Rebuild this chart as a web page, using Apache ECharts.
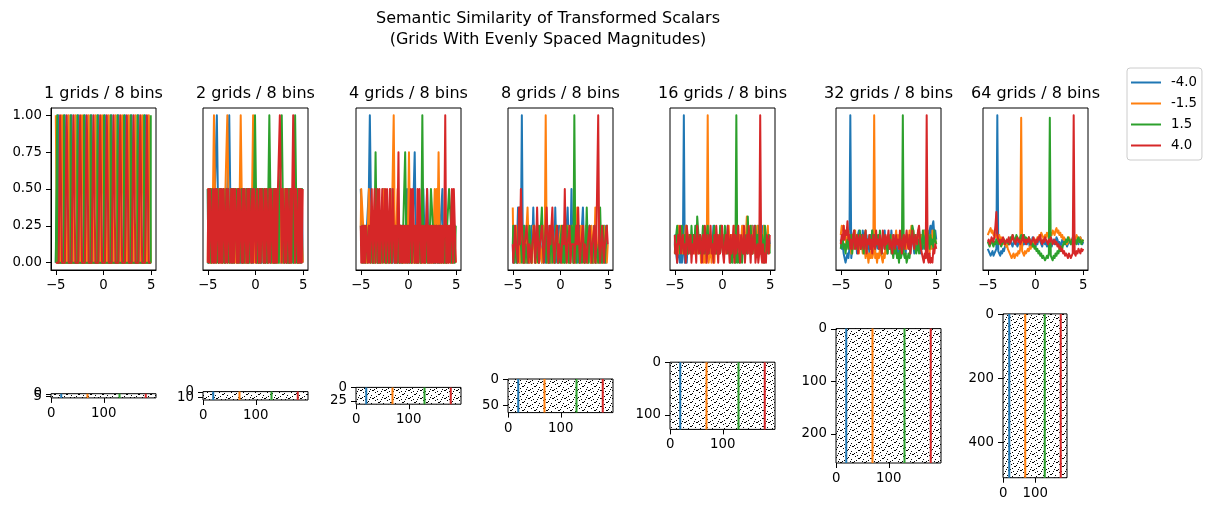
<!DOCTYPE html>
<html>
<head>
<meta charset="utf-8">
<script src="https://cdn.jsdelivr.net/npm/echarts@6/dist/echarts.min.js"></script>
<style>
  html, body { margin: 0; padding: 0; background: #fff; }
  #chart { width: 1218px; height: 511px; }
</style>
</head>
<body>
<div id="chart"></div>
<script>
// grids per panel, legend values and colours
const gridCounts = [1, 2, 4, 8, 16, 32, 64];
const valueNames = ['-4.0', '-1.5', '1.5', '4.0'];
const colors = ['#1f77b4', '#ff7f0e', '#2ca02c', '#d62728'];

// sample positions of the scalar (x axis of the top row)
const xs = [
  -5, -4.9, -4.8, -4.7, -4.6, -4.5, -4.4, -4.3, -4.2, -4.1,
  -4, -3.9, -3.8, -3.7, -3.6, -3.5, -3.4, -3.3, -3.2, -3.1,
  -3, -2.9, -2.8, -2.7, -2.6, -2.5, -2.4, -2.3, -2.2, -2.1,
  -2, -1.9, -1.8, -1.7, -1.6, -1.5, -1.4, -1.3, -1.2, -1.1,
  -1, -0.9, -0.8, -0.7, -0.6, -0.5, -0.4, -0.3, -0.2, -0.1,
  0, 0.1, 0.2, 0.3, 0.4, 0.5, 0.6, 0.7, 0.8, 0.9,
  1, 1.1, 1.2, 1.3, 1.4, 1.5, 1.6, 1.7, 1.8, 1.9,
  2, 2.1, 2.2, 2.3, 2.4, 2.5, 2.6, 2.7, 2.8, 2.9,
  3, 3.1, 3.2, 3.3, 3.4, 3.5, 3.6, 3.7, 3.8, 3.9,
  4, 4.1, 4.2, 4.3, 4.4, 4.5, 4.6, 4.7, 4.8, 4.9,
  5
];

// matched grids per sample (similarity = matched / grids)
const g1Blue = [
  0,0,0,1,1,0,0,0,0,0, 1,1,0,0,0,0,0,1,1,0,
  0,0,0,0,1,1,0,0,0,0, 0,1,1,0,0,0,0,0,1,1,
  0,0,0,0,0,1,1,0,0,0, 0,0,1,1,0,0,0,0,0,1,
  1,0,0,0,0,0,1,1,0,0, 0,0,0,1,1,0,0,0,0,0,
  1,1,0,0,0,0,0,1,1,0, 0,0,0,0,1,1,0,0,0,0,
  0];
const g1Orange = [
  1,1,0,0,0,0,0,1,1,0, 0,0,0,0,1,1,0,0,0,0,
  0,1,1,0,0,0,0,0,1,1, 0,0,0,0,0,1,1,0,0,0,
  0,0,1,1,0,0,0,0,0,1, 1,0,0,0,0,0,1,1,0,0,
  0,0,0,1,1,0,0,0,0,0, 1,1,0,0,0,0,0,1,1,0,
  0,0,0,0,1,1,0,0,0,0, 0,1,1,0,0,0,0,0,1,1,
  0];
const g1Green = [
  0,0,1,0,0,0,0,0,0,1, 0,0,0,0,0,0,1,0,0,0,
  0,0,0,1,0,0,0,0,0,0, 1,0,0,0,0,0,0,1,0,0,
  0,0,0,0,1,0,0,0,0,0, 0,1,0,0,0,0,0,0,1,0,
  0,0,0,0,0,1,0,0,0,0, 0,0,1,0,0,0,0,0,0,1,
  0,0,0,0,0,0,1,0,0,0, 0,0,0,1,0,0,0,0,0,0,
  1];
const g1Red = [
  0,0,0,0,0,1,1,0,0,0, 0,0,1,1,0,0,0,0,0,1,
  1,0,0,0,0,0,1,1,0,0, 0,0,0,1,1,0,0,0,0,0,
  1,1,0,0,0,0,0,1,1,0, 0,0,0,0,1,1,0,0,0,0,
  0,1,1,0,0,0,0,0,1,1, 0,0,0,0,0,1,1,0,0,0,
  0,0,1,1,0,0,0,0,0,1, 1,0,0,0,0,0,1,1,0,0,
  0];

const g2Blue = [
  1,0,1,1,0,0,1,0,1,1, 2,1,0,0,1,0,0,1,1,0,
  0,1,1,2,1,0,0,1,0,1, 1,0,0,1,1,0,1,0,0,1,
  0,1,1,0,0,1,0,1,0,0, 1,1,0,1,0,0,1,0,1,1,
  0,0,1,0,1,1,0,0,1,0, 1,0,0,1,0,1,1,0,0,1,
  1,0,0,1,0,1,0,0,1,1, 0,1,0,0,1,0,1,1,0,1,
  0];
const g2Orange = [
  0,1,1,0,1,0,1,2,1,0, 0,1,0,1,1,0,0,1,0,1,
  1,2,1,0,0,1,0,1,1,0, 1,0,1,0,1,2,1,0,0,1,
  0,1,0,0,1,1,0,1,2,1, 0,0,1,0,1,0,0,1,1,0,
  1,0,0,1,0,0,1,1,0,1, 0,1,1,0,0,1,0,0,1,0,
  0,1,1,0,1,0,0,1,0,1, 1,0,0,1,0,1,0,0,1,1,
  0];
const g2Green = [
  1,0,0,1,0,1,1,0,0,1, 0,1,0,0,1,1,0,1,0,0,
  1,0,1,0,0,1,0,1,0,0, 1,1,0,1,0,0,1,0,1,0,
  0,1,0,1,0,0,1,0,0,1, 2,1,0,1,0,1,0,0,1,0,
  1,0,1,0,1,2,1,0,0,1, 0,1,0,0,1,0,1,1,2,1,
  0,0,1,0,1,0,1,0,1,1, 0,1,2,1,0,1,0,1,0,1,
  1];
const g2Red = [
  0,1,0,1,1,0,1,0,1,0, 1,1,0,1,0,1,0,1,1,0,
  1,0,1,1,0,1,0,1,0,1, 1,0,1,0,1,1,0,1,0,1,
  1,0,1,0,1,1,0,1,0,1, 1,0,1,1,0,1,0,1,1,0,
  1,0,1,1,0,1,0,1,1,0, 1,0,1,0,1,1,2,1,0,1,
  1,0,1,0,1,1,0,1,0,1, 2,1,0,1,1,0,1,0,1,0,
  1];

const g4Blue = [
  2,2,1,0,1,1,0,1,1,2, 4,2,1,0,1,0,1,1,0,1,
  1,0,1,1,2,2,1,0,1,1, 0,1,2,1,0,1,1,0,1,0,
  1,1,0,1,0,1,1,0,1,2, 1,0,1,1,0,1,1,3,1,0,
  1,0,1,1,0,1,2,1,0,1, 2,1,1,0,1,0,1,1,0,1,
  1,0,1,0,1,1,2,0,1,1, 0,1,0,1,1,0,1,1,0,1,
  1];
const g4Orange = [
  1,2,2,1,0,1,1,0,1,2, 1,0,1,1,0,1,0,1,1,0,
  1,1,0,1,1,2,0,1,1,0, 1,1,0,1,1,4,1,0,1,2,
  1,0,1,1,0,1,0,1,1,0, 1,3,1,0,1,1,0,1,0,1,
  0,1,1,0,1,0,1,1,0,1, 1,0,1,1,0,1,0,1,2,1,
  2,1,3,1,0,1,1,0,1,0, 1,1,0,1,1,0,1,0,1,1,
  0];
const g4Green = [
  1,1,0,1,1,0,1,1,0,1, 1,0,1,1,0,1,3,1,0,1,
  0,1,1,0,1,1,0,1,0,1, 1,0,1,0,1,1,0,1,1,0,
  1,0,1,1,0,1,1,3,1,0, 1,1,0,1,0,1,1,0,1,1,
  0,1,1,0,1,4,1,0,1,1, 0,1,0,1,2,2,1,0,1,0,
  1,1,0,1,1,0,1,1,0,1, 0,1,1,2,2,1,0,1,1,0,
  1];
const g4Red = [
  1,0,1,0,1,0,1,1,0,1, 0,1,2,0,1,2,0,1,2,0,
  2,0,1,2,0,1,2,0,2,1, 0,2,1,0,2,1,0,1,0,1,
  3,0,1,0,1,0,1,0,1,0, 1,0,1,2,0,2,1,0,1,0,
  2,0,2,1,0,1,0,1,0,1, 2,0,1,0,1,0,1,0,1,0,
  1,0,1,0,1,0,1,0,1,4, 0,1,0,1,0,1,2,0,2,1,
  0];

const g8Blue = [
  1,0,2,1,0,1,3,1,0,1, 8,1,0,2,1,0,1,2,0,1,
  2,1,3,1,0,1,2,1,0,1, 1,0,2,1,1,0,1,2,0,1,
  0,1,2,1,0,3,1,0,1,2, 1,0,1,1,2,0,1,1,3,1,
  0,1,4,1,0,2,1,1,0,1, 2,0,1,1,3,1,0,1,2,0,
  1,2,0,1,1,0,2,1,0,1, 1,0,2,1,0,1,1,2,0,1,
  1];
const g8Orange = [
  3,1,0,1,2,0,1,1,0,2, 1,0,1,1,0,2,3,1,0,1,
  1,0,2,1,1,0,1,2,0,1, 1,0,1,2,1,8,1,0,1,1,
  2,0,1,1,0,1,2,1,0,1, 1,2,0,1,0,1,1,0,2,1,
  0,1,1,2,0,1,0,1,3,1, 0,1,2,0,1,1,0,2,1,0,
  1,1,0,2,1,0,1,3,1,0, 1,2,0,1,1,0,2,1,1,0,
  1];
const g8Green = [
  1,2,0,1,1,0,1,2,3,1, 0,1,2,0,1,1,0,1,2,1,
  0,1,1,2,0,1,1,0,2,1, 1,3,1,0,1,2,0,1,1,0,
  1,2,0,1,1,0,2,1,1,0, 1,1,2,0,1,0,1,2,1,0,
  1,0,2,1,0,8,1,0,1,2, 0,1,1,0,2,1,0,1,3,1,
  0,2,1,1,0,1,2,0,1,1, 0,1,3,1,0,2,1,0,1,2,
  2];
const g8Red = [
  1,0,1,2,1,1,0,3,1,4, 2,1,0,1,1,2,1,0,1,1,
  0,1,1,2,0,1,3,1,0,1, 1,2,1,0,1,1,3,1,0,2,
  1,1,3,1,0,1,1,2,0,1, 1,0,1,2,1,4,1,0,1,1,
  2,0,1,1,1,0,1,2,1,3, 1,0,1,1,2,0,1,1,0,1,
  1,2,1,0,1,1,2,0,1,1, 8,1,0,1,2,1,0,1,1,2,
  1];

const g16Blue = [
  2,3,1,0,2,1,0,1,0,1, 16,0,1,0,2,1,3,2,1,2,
  3,2,1,4,2,1,3,2,2,1, 3,2,1,2,4,2,1,3,2,1,
  2,4,3,1,2,3,2,1,3,4, 2,1,2,3,1,2,4,3,2,1,
  3,2,1,2,4,1,2,3,2,1, 2,3,4,2,1,3,2,1,2,3,
  1,2,4,3,2,1,2,3,4,2, 1,3,2,4,1,2,3,1,2,3,
  2];
const g16Orange = [
  1,2,3,2,4,1,2,3,2,1, 3,2,4,2,1,3,2,1,2,3,
  2,1,3,4,2,1,2,3,0,1, 2,0,1,0,1,16,0,1,2,0,
  1,2,0,3,1,2,1,3,2,4, 2,1,3,2,1,3,2,4,1,2,
  3,1,2,4,2,3,1,2,3,1, 2,4,3,2,1,3,5,2,3,1,
  2,4,1,3,2,1,2,4,3,1, 2,3,1,2,4,1,3,2,4,1,
  2];
const g16Green = [
  2,1,3,4,2,3,1,2,4,2, 1,3,2,4,1,2,3,1,4,2,
  3,2,4,1,5,5,2,3,1,2, 4,3,1,2,3,4,1,2,3,2,
  1,3,4,2,1,3,2,1,4,2, 3,1,2,4,3,2,1,2,1,0,
  1,0,2,1,0,16,0,1,0,2, 1,0,2,1,3,2,1,5,2,3,
  4,2,1,3,2,4,1,3,2,4, 2,1,3,2,0,4,3,1,2,3,
  1];
const g16Red = [
  3,1,2,0,3,2,4,1,2,3, 1,2,0,4,3,1,2,3,0,2,
  1,3,2,0,4,2,1,3,2,0, 3,1,4,2,0,3,1,2,4,1,
  2,0,3,1,4,2,0,3,1,2, 4,1,0,2,3,1,4,2,0,3,
  1,2,4,0,3,1,2,4,1,0, 3,2,1,4,0,2,3,1,4,2,
  0,3,1,2,4,0,1,2,0,1, 16,1,0,2,0,1,0,3,2,1,
  3];

const g32Blue = [
  5,3,4,2,1,0,0,2,1,3, 32,1,3,5,6,3,5,2,6,7,
  4,6,3,7,5,2,4,6,3,5, 2,6,4,7,3,5,2,6,4,3,
  6,3,5,2,6,4,7,3,5,2, 6,4,3,7,4,2,5,6,3,5,
  2,5,6,3,4,7,3,5,2,6, 4,3,6,2,5,7,4,2,5,6,
  3,5,7,4,2,6,3,5,7,4, 2,6,5,7,8,6,8,9,6,7,
  5];
const g32Orange = [
  6,8,7,8,5,6,3,5,7,4, 5,2,6,3,5,7,3,6,4,2,
  5,3,4,2,5,3,1,3,2,0, 2,1,3,1,2,32,1,2,0,2,
  1,3,2,1,0,2,1,4,2,5, 3,5,6,3,4,6,3,5,7,4,
  6,3,5,4,7,5,6,3,5,3, 6,4,7,5,8,5,7,3,6,4,
  5,7,4,6,3,6,4,7,5,3, 5,4,6,2,5,3,7,4,6,5,
  4];
const g32Green = [
  3,5,6,3,4,2,4,5,3,6, 4,6,2,5,7,4,5,3,6,4,
  7,3,6,4,2,6,7,3,5,4, 6,3,5,7,4,6,3,5,4,6,
  3,7,4,2,5,6,3,5,4,2, 5,3,6,2,3,1,4,2,3,1,
  2,0,3,1,2,32,2,1,2,0, 0,2,1,3,6,8,7,5,3,2,
  3,5,2,6,4,3,7,5,3,6, 4,7,5,3,6,4,5,3,7,5,
  4];
const g32Red = [
  4,6,5,8,5,7,6,9,5,6, 3,5,3,6,7,3,4,6,2,5,
  6,3,4,6,3,5,7,2,5,4, 6,3,5,2,6,4,3,7,4,5,
  3,6,4,2,7,5,3,6,4,5, 7,3,5,4,2,6,5,3,6,4,
  5,3,7,4,2,5,6,3,5,7, 4,3,6,2,5,7,4,3,6,5,
  4,7,8,5,3,2,1,0,2,1, 32,1,0,2,0,1,0,3,2,4,
  3];

const g64Blue = [
  6,5,4,3,4,5,3,4,5,6, 64,5,4,3,5,4,6,5,7,8,
  7,9,8,10,9,8,7,9,10,8, 9,7,8,10,9,8,7,9,8,10,
  9,8,10,9,7,8,9,11,10,8, 7,9,8,10,11,9,8,7,9,10,
  8,9,7,8,10,9,8,7,9,10, 8,9,11,10,8,9,7,8,10,9,
  8,10,9,7,8,9,10,8,9,11, 10,8,9,10,9,8,10,11,9,8,
  9];
const g64Orange = [
  12,13,14,15,13,14,12,13,11,12, 10,11,12,10,11,9,10,8,9,7,
  8,6,5,4,3,2,3,4,2,3, 4,3,5,4,6,63,5,4,3,5,
  4,5,6,5,7,6,8,7,9,8, 10,9,11,10,12,11,13,12,11,10,
  12,11,13,12,10,11,13,12,14,13, 12,14,15,13,14,12,13,11,12,10,
  11,9,10,8,9,11,10,9,8,10, 9,11,10,12,11,10,9,11,10,9,
  10];
const g64Green = [
  9,8,7,9,10,8,7,9,8,10, 9,8,10,9,7,8,9,10,8,9,
  10,9,8,9,11,10,12,11,9,10, 12,11,10,9,11,12,10,11,12,10,
  11,10,9,11,10,8,9,7,8,6, 7,5,6,4,5,3,4,2,3,2,
  1,2,3,2,4,63,3,2,1,3, 2,4,3,5,4,6,5,7,6,8,
  9,8,10,9,11,10,9,8,10,9, 11,10,9,8,10,11,9,10,8,9,
  10];
const g64Red = [
  9,10,8,9,11,10,9,12,16,22, 12,10,9,8,10,9,11,10,8,9,
  10,9,11,8,9,10,12,10,9,8, 10,11,9,10,8,9,10,12,9,10,
  8,10,9,11,10,8,9,10,11,9, 8,10,9,11,10,12,9,8,10,9,
  11,10,9,8,10,9,11,10,8,9, 10,8,9,7,8,6,7,5,6,4,
  5,3,4,3,2,4,3,2,3,4, 64,4,3,5,4,6,5,4,6,5,
  6];

// encoding images (bottom row): rows = grids * 8 bins, 200 samples wide
const imageCols = 200;
const imageRows = [8, 16, 32, 64, 128, 256, 512];
const valueCols = [19, 69, 130, 180];

// tick labels
const simXTicks = [-5, 0, 5];
const simYTicks = [0, 0.25, 0.5, 0.75, 1];
const imageXTicks = [0, 100];
const imageYTicks = [[0, 5], [0, 10], [0, 25], [0, 50], [0, 100], [0, 100, 200], [0, 200, 400]];

const simCounts = [
  [g1Blue, g1Orange, g1Green, g1Red],
  [g2Blue, g2Orange, g2Green, g2Red],
  [g4Blue, g4Orange, g4Green, g4Red],
  [g8Blue, g8Orange, g8Green, g8Red],
  [g16Blue, g16Orange, g16Green, g16Red],
  [g32Blue, g32Orange, g32Green, g32Red],
  [g64Blue, g64Orange, g64Green, g64Red]
];

// layout (px)
const topLefts = [51, 203, 356, 508, 670, 836, 983];
const topTop = 108, topW = 105, topH = 162;
const imgLefts = [51, 203, 356, 508, 670, 836, 1003];
const imgWidths = [105, 105, 105, 105, 105, 105, 64];
const imgMidY = 395.8;

const FONT = 'DejaVu Sans';
const tickFont = 13.3;

// speckled texture standing in for the binary encoding pixels
function hatchTile() {
  const c = document.createElement('canvas');
  c.width = 12; c.height = 8;
  const g = c.getContext('2d');
  g.fillStyle = '#fff';
  g.fillRect(0, 0, 12, 8);
  g.fillStyle = '#000';
  [[0,6],[1,6],[2,5],[6,2],[7,2],[8,1],[4,4],[10,5],[3,0],[9,7],[11,3],[5,7]]
    .forEach(p => g.fillRect(p[0], p[1], 1, 1));
  return c;
}
const tile = hatchTile();

const minus = v => (v < 0 ? '\u2212' + (-v) : String(v));
const tickLabel = { color: '#000', fontSize: tickFont, fontFamily: FONT, margin: 9, showMinLabel: true, showMaxLabel: true };

const grid = [], xAxis = [], yAxis = [], series = [], titles = [];

titles.push({
  text: 'Semantic Similarity of Transformed Scalars\n(Grids With Evenly Spaced Magnitudes)',
  left: 548, top: 8, textAlign: 'center', padding: 0,
  textStyle: { fontFamily: FONT, fontSize: 16, fontWeight: 'normal', color: '#000', lineHeight: 21 }
});

gridCounts.forEach((n, p) => {
  grid.push({
    left: topLefts[p], top: topTop, width: topW, height: topH,
    show: true, borderColor: '#000', borderWidth: 1, backgroundColor: 'transparent',
    outerBoundsMode: 'none'
  });
  titles.push({
    text: n + ' grids / 8 bins',
    left: topLefts[p] + topW / 2, top: 84, textAlign: 'center', padding: 0,
    textStyle: { fontFamily: FONT, fontSize: 16, fontWeight: 'normal', color: '#000', lineHeight: 20 }
  });
  xAxis.push({
    gridIndex: p, type: 'value', min: -5.5, max: 5.5,
    axisLine: { show: true, onZero: false, lineStyle: { color: '#000', width: 1 } },
    splitLine: { show: false },
    axisTick: { show: true, customValues: simXTicks, length: 5, lineStyle: { color: '#000' } },
    axisLabel: Object.assign({ customValues: simXTicks, formatter: minus }, tickLabel)
  });
  const yIdx = yAxis.length;
  yAxis.push(p === 0 ? {
    gridIndex: p, type: 'value', min: -0.05, max: 1.05,
    axisLine: { show: true, onZero: false, lineStyle: { color: '#000', width: 1 } },
    splitLine: { show: false },
    axisTick: { show: true, customValues: simYTicks, length: 5, lineStyle: { color: '#000' } },
    axisLabel: Object.assign({ customValues: simYTicks, formatter: v => v.toFixed(2) }, tickLabel)
  } : {
    gridIndex: p, type: 'value', min: -0.05, max: 1.05, show: false, splitLine: { show: false }
  });
  simCounts[p].forEach((counts, s) => {
    series.push({
      type: 'line', name: valueNames[s], xAxisIndex: p, yAxisIndex: yIdx,
      data: counts.slice(0, xs.length).map((k, i) => [xs[i], k / n]),
      step: n <= 16 ? 'middle' : false,
      showSymbol: false, symbol: 'none', animation: false, clip: true,
      lineStyle: { width: 2, color: colors[s], join: 'round' },
      itemStyle: { color: colors[s] },
      emphasis: { disabled: true }
    });
  });
});

imageRows.forEach((rows, p) => {
  const gi = grid.length;
  const h = rows * imgWidths[p] / imageCols;
  grid.push({
    left: imgLefts[p], top: imgMidY - h / 2, width: imgWidths[p], height: h,
    show: false, outerBoundsMode: 'none'
  });
  const xIdx = xAxis.length;
  xAxis.push({
    gridIndex: gi, type: 'value', min: -0.5, max: imageCols - 0.5,
    axisLine: { show: false, onZero: false },
    splitLine: { show: false },
    axisTick: { show: true, customValues: imageXTicks, length: 5, lineStyle: { color: '#000' } },
    axisLabel: Object.assign({ customValues: imageXTicks }, tickLabel)
  });
  // one y axis per tick so that overlapping labels (e.g. 0 and 5) both stay visible
  const yIdx = yAxis.length;
  imageYTicks[p].forEach(t => {
    yAxis.push({
      gridIndex: gi, type: 'value', position: 'left', inverse: true, min: -0.5, max: rows - 0.5,
      axisLine: { show: false, onZero: false },
      splitLine: { show: false },
      axisTick: { show: true, customValues: [t], length: 5, lineStyle: { color: '#000' } },
      axisLabel: Object.assign({ customValues: [t] }, tickLabel)
    });
  });
  series.push({
    type: 'custom', xAxisIndex: xIdx, yAxisIndex: yIdx, silent: true, animation: false, z: 1,
    data: [[-0.5, -0.5, imageCols - 0.5, rows - 0.5]],
    encode: { x: [0, 2], y: [1, 3] },
    renderItem: (params, api) => {
      const a = api.coord([api.value(0), api.value(1)]);
      const b = api.coord([api.value(2), api.value(3)]);
      return {
        type: 'rect',
        shape: { x: Math.min(a[0], b[0]), y: Math.min(a[1], b[1]), width: Math.abs(b[0] - a[0]), height: Math.abs(b[1] - a[1]) },
        style: { fill: { image: tile, repeat: 'repeat' }, stroke: '#000', lineWidth: 1 }
      };
    }
  });
  valueCols.forEach((col, s) => {
    series.push({
      type: 'line', name: valueNames[s], xAxisIndex: xIdx, yAxisIndex: yIdx, z: 3,
      data: [[col, -0.5], [col, rows - 0.5]],
      showSymbol: false, symbol: 'none', animation: false,
      lineStyle: { width: 2, color: colors[s] },
      itemStyle: { color: colors[s] },
      emphasis: { disabled: true }
    });
  });
});

const chart = echarts.init(document.getElementById('chart'));
chart.setOption({
  backgroundColor: '#fff',
  animation: false,
  textStyle: { fontFamily: FONT },
  title: titles,
  legend: {
    data: valueNames, left: 1127, top: 68, orient: 'vertical',
    icon: 'rect', itemWidth: 30, itemHeight: 2, itemGap: 8,
    padding: [8, 5, 8, 4], borderColor: '#cccccc', borderWidth: 1, borderRadius: 3,
    selectedMode: false,
    textStyle: { fontFamily: FONT, fontSize: tickFont, color: '#000', padding: [0, 0, 0, 5] }
  },
  grid, xAxis, yAxis, series
});
</script>
</body>
</html>
